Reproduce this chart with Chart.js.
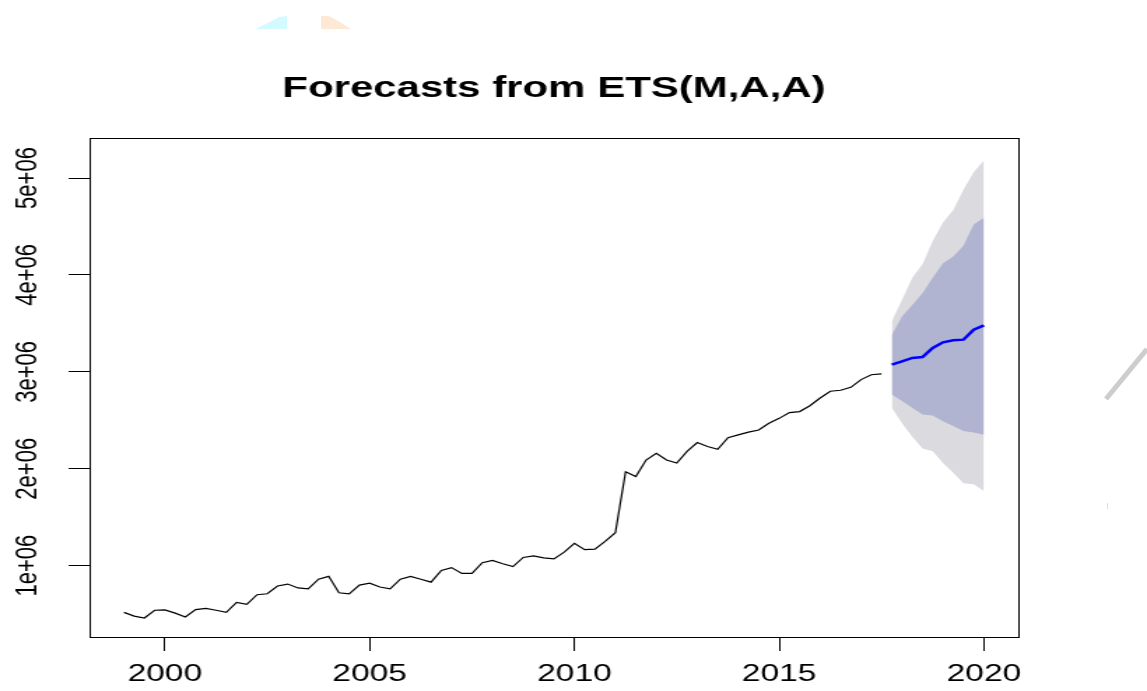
<!DOCTYPE html>
<html>
<head>
<meta charset="utf-8">
<title>Forecasts from ETS(M,A,A)</title>
<script src="https://cdn.jsdelivr.net/npm/chart.js@4.4.1/dist/chart.umd.min.js"></script>
<style>
  html, body { margin: 0; padding: 0; background: #fff; }
  body { width: 1147px; height: 691px; position: relative; overflow: hidden; }
  /* the R plot in the picture is stretched sideways, so draw narrow and scale */
  #wrap { position: absolute; left: 0; top: 0; width: 820px; height: 691px;
          transform: scaleX(1.39878); transform-origin: 0 0; }
  #blots { position: absolute; left: 0; top: 0; }
</style>
</head>
<body>
<div id="wrap"><canvas id="etsChart" width="820" height="691"></canvas></div>
<svg id="blots" width="1147" height="691">
  <polygon points="255,29 268,23 279,17 287,16 287,29" fill="#d3fbff"/>
  <polygon points="321,16 329,16 340,22 351,29 321,29" fill="#fde9d6"/>
  <line x1="1106" y1="399" x2="1147" y2="349" stroke="#cdcdcd" stroke-width="5"/>
  <line x1="1107.5" y1="503" x2="1107.5" y2="509" stroke="#dddddd" stroke-width="1"/>
</svg>
<script>
// --- Serie trimestral (1999 Q1 - 2017 Q3) ---
const startYear = 1999;
const freq = 4;
const histValues = [
    518000, 480000, 460000, 540000, 543000, 510000, 470000, 546000,
    560000, 540000, 518000, 620000, 600000, 700000, 710000, 790000,
    810000, 770000, 760000, 860000, 890000, 720000, 710000, 800000,
    820000, 780000, 760000, 860000, 890000, 860000, 830000, 950000,
    980000, 920000, 920000, 1030000, 1055000, 1020000, 990000, 1085000,
    1100000, 1080000, 1070000, 1140000, 1230000, 1165000, 1170000, 1250000,
    1340000, 1970000, 1920000, 2090000, 2160000, 2090000, 2060000, 2180000,
    2270000, 2230000, 2200000, 2320000, 2350000, 2378000, 2400000, 2470000,
    2520000, 2580000, 2590000, 2650000, 2730000, 2800000, 2810000, 2840000,
    2920000, 2970000, 2980000
];

// --- Pronostico (2017 Q4 - 2020 Q1) ---
const fcStart = 2017.75;
const fcMean = [3074000, 3108000, 3143000, 3153000, 3246000, 3305000, 3325000, 3332000, 3435000, 3480000];
const fcHi80 = [3380000, 3570000, 3690000, 3810000, 3970000, 4120000, 4190000, 4300000, 4520000, 4590000];
const fcLo80 = [2765000, 2700000, 2630000, 2560000, 2550000, 2490000, 2440000, 2390000, 2375000, 2350000];
const fcHi95 = [3520000, 3745000, 3970000, 4110000, 4350000, 4540000, 4670000, 4880000, 5060000, 5180000];
const fcLo95 = [2630000, 2470000, 2330000, 2210000, 2180000, 2060000, 1960000, 1850000, 1840000, 1770000];

// --- Ejes ---
const titleText = "Forecasts from ETS(M,A,A)";
const xTicks = [2000, 2005, 2010, 2015, 2020];
const yTicks = [1000000, 2000000, 3000000, 4000000, 5000000];
const yTickLabels = ["1e+06", "2e+06", "3e+06", "4e+06", "5e+06"];

const FONT = '"Liberation Sans", Arial, Helvetica, sans-serif';

function toPoints(vals, t0) {
    return vals.map((v, i) => ({ x: t0 + i / freq, y: v }));
}

// caja, titulo y etiquetas al estilo de R
const rDecor = {
    id: "rDecor",
    afterDraw(chart) {
        const { ctx, chartArea: a, scales } = chart;
        ctx.save();
        ctx.strokeStyle = "#000";
        ctx.lineWidth = 1;
        ctx.strokeRect(Math.round(a.left) + 0.5, Math.round(a.top) + 0.5,
            Math.round(a.right - a.left), Math.round(a.bottom - a.top));

        ctx.fillStyle = "#000";
        ctx.textAlign = "center";
        ctx.textBaseline = "alphabetic";
        ctx.font = "bold 30px " + FONT;
        ctx.fillText(titleText, (a.left + a.right) / 2, 97);

        ctx.font = "24px " + FONT;
        xTicks.forEach(t => {
            ctx.fillText(String(t), scales.x.getPixelForValue(t), 681);
        });

        ctx.font = "22px " + FONT;
        yTicks.forEach((t, i) => {
            ctx.save();
            ctx.translate(26, scales.y.getPixelForValue(t));
            ctx.rotate(-Math.PI / 2);
            ctx.fillText(yTickLabels[i], 0, 0);
            ctx.restore();
        });
        ctx.restore();
    }
};

const ctxEts = document.getElementById("etsChart").getContext("2d");

new Chart(ctxEts, {
    type: "line",
    data: {
        datasets: [
            {
                label: "95%",
                data: toPoints(fcHi95, fcStart),
                fill: "+1",
                backgroundColor: "#dadadf",
                borderColor: "rgba(0,0,0,0)",
                borderWidth: 1,
                pointRadius: 0,
                order: 3
            },
            {
                label: "95% low",
                data: toPoints(fcLo95, fcStart),
                fill: false,
                borderColor: "rgba(0,0,0,0)",
                borderWidth: 1,
                pointRadius: 0,
                order: 3
            },
            {
                label: "80%",
                data: toPoints(fcHi80, fcStart),
                fill: "+1",
                backgroundColor: "#b0b4d0",
                borderColor: "rgba(0,0,0,0)",
                borderWidth: 1,
                pointRadius: 0,
                order: 2
            },
            {
                label: "80% low",
                data: toPoints(fcLo80, fcStart),
                fill: false,
                borderColor: "rgba(0,0,0,0)",
                borderWidth: 1,
                pointRadius: 0,
                order: 2
            },
            {
                label: "Serie",
                data: toPoints(histValues, startYear),
                fill: false,
                borderColor: "#000",
                borderWidth: 1.2,
                pointRadius: 0,
                tension: 0,
                order: 1
            },
            {
                label: "Pronostico",
                data: toPoints(fcMean, fcStart),
                fill: false,
                borderColor: "#0000ff",
                borderWidth: 2.5,
                pointRadius: 0,
                tension: 0,
                order: 0
            }
        ]
    },
    options: {
        responsive: false,
        animation: false,
        devicePixelRatio: 1,
        layout: { padding: { top: 138, right: 92, bottom: 0, left: 0 } },
        scales: {
            x: {
                type: "linear",
                min: 1998.16,
                max: 2020.84,
                afterBuildTicks: s => { s.ticks = xTicks.map(v => ({ value: v })); },
                afterFit: s => { s.height = 54; },
                ticks: { display: false },
                grid: { drawOnChartArea: false, drawTicks: true, tickLength: 14, tickColor: "#000", tickWidth: 1 },
                border: { display: false }
            },
            y: {
                type: "linear",
                min: 264000,
                max: 5413000,
                afterBuildTicks: s => { s.ticks = yTicks.map(v => ({ value: v })); },
                afterFit: s => { s.width = 64; },
                ticks: { display: false },
                grid: { drawOnChartArea: false, drawTicks: true, tickLength: 15, tickColor: "#000", tickWidth: 1 },
                border: { display: false }
            }
        },
        plugins: {
            legend: { display: false },
            tooltip: { enabled: false },
            title: { display: false }
        }
    },
    plugins: [rDecor]
});
</script>
</body>
</html>
